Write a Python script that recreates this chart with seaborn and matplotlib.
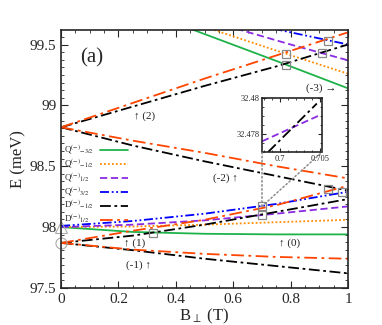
import numpy as np
import pandas as pd
import seaborn as sns
import matplotlib.pyplot as plt
from matplotlib.patches import ConnectionPatch
from matplotlib.ticker import MultipleLocator

sns.set_style("ticks")
plt.rcParams['font.family'] = ['Liberation Serif', 'DejaVu Serif']
plt.rcParams['mathtext.fontset'] = 'stix'

# field values (T) and energies (meV)
b_full = [0.0, 0.25, 0.5, 0.75, 1.0]

q_m32_low = [98.00, 97.96, 97.945, 97.94, 97.94]
q_m32_up_b = [0.45, 0.75, 1.0]
q_m32_up = [99.63, 99.365, 99.14]

q_m12_low = [98.00, 98.005, 98.02, 98.04, 98.06]
q_m12_up_b = [0.52, 0.75, 1.0]
q_m12_up = [99.63, 99.45, 99.26]

q_p12_low = [98.00, 98.02, 98.055, 98.11, 98.17]
q_p12_up_b = [0.61, 0.8, 1.0]
q_p12_up = [99.63, 99.50, 99.37]

q_p32_low = [98.01, 98.05, 98.11, 98.19, 98.29]
q_p32_up_b = [0.74, 1.0]
q_p32_up = [99.63, 99.50]

d_m12_up = [98.82, 98.99, 99.16, 99.32, 99.50]
d_m12_down = [98.82, 98.67, 98.54, 98.42, 98.30]
d_m12_rise = [97.87, 97.93, 98.02, 98.125, 98.23]
d_m12_fall = [97.87, 97.81, 97.74, 97.68, 97.62]

d_p12_up = [98.82, 99.02, 99.22, 99.41, 99.60]
d_p12_down = [98.82, 98.71, 98.61, 98.50, 98.40]
d_p12_rise = [97.87, 97.97, 98.06, 98.18, 98.34]
d_p12_fall = [97.87, 97.815, 97.78, 97.755, 97.74]

# crossing markers
sq_b = [0.32, 0.785, 0.785, 0.908, 0.93, 0.70, 0.70, 0.93, 0.98]
sq_e = [97.955, 99.33, 99.42, 99.43, 99.53, 98.17, 98.10, 98.31, 98.29]

# inset (zoom of the crossing near 0.7 T)
ins_b_purple = [0.69775, 0.705]
ins_e_purple = [32.4776, 32.47906]
ins_b_black = [0.6985, 0.7046]
ins_e_black = [32.477, 32.4797]

labels = [r'Q$^{(-)}{}_{-3/2}$', r'Q$^{(-)}{}_{-1/2}$', r'Q$^{(-)}{}_{1/2}$',
          r'Q$^{(-)}{}_{3/2}$', r'D$^{(-)}{}_{-1/2}$', r'D$^{(-)}{}_{1/2}$']
colors = ['#1fb24a', '#ff8c00', '#8a2be2', '#0000ff', '#000000', '#ff4500']
styles = ['-', (0, (1, 1.2)), (0, (4, 2)), (0, (5, 1.5, 1, 1.5, 1, 1.5)),
          (0, (6, 2, 1.5, 2)), (0, (7, 2.5, 1.5, 2.5))]

branches = [
    [(b_full, q_m32_low), (q_m32_up_b, q_m32_up)],
    [(b_full, q_m12_low), (q_m12_up_b, q_m12_up)],
    [(b_full, q_p12_low), (q_p12_up_b, q_p12_up)],
    [(b_full, q_p32_low), (q_p32_up_b, q_p32_up)],
    [(b_full, d_m12_up), (b_full, d_m12_down), (b_full, d_m12_rise), (b_full, d_m12_fall)],
    [(b_full, d_p12_up), (b_full, d_p12_down), (b_full, d_p12_rise), (b_full, d_p12_fall)],
]

fig = plt.figure(figsize=(3.82, 3.25), dpi=100)
ax = fig.add_axes([0.160, 0.114, 0.751, 0.794])

for lab, col, ls, brs in zip(labels, colors, styles, branches):
    for bx, ey in brs:
        sns.lineplot(x=bx, y=ey, ax=ax, color=col, linestyle=ls, linewidth=1.3)

ax.plot(sq_b, sq_e, 's', ms=6, mfc='none', mec='#888888', mew=0.9)
ax.plot([0], [98.0], '^', ms=8, mfc='none', mec='#aaaaaa', mew=0.8, clip_on=False)
ax.plot([0], [97.87], 'o', ms=8, mfc='none', mec='#aaaaaa', mew=0.8, clip_on=False)

ax.set_xlim(0, 1)
ax.set_ylim(97.5, 99.62)
ax.set_xticks([0, 0.2, 0.4, 0.6, 0.8, 1])
ax.set_xticklabels(['0', '0.2', '0.4', '0.6', '0.8', '1'])
ax.set_yticks([97.5, 98, 98.5, 99, 99.5])
ax.set_yticklabels(['97.5', '98', '98.5', '99', '99.5'])
ax.xaxis.set_minor_locator(MultipleLocator(0.05))
ax.yaxis.set_minor_locator(MultipleLocator(0.0625))
ax.tick_params(which='both', direction='in', top=True, right=True, labelsize=11)
ax.tick_params(which='major', length=5)
ax.tick_params(which='minor', length=2.5)
for s in ax.spines.values():
    s.set_linewidth(1.2)
ax.set_xlabel(r'B$_{\perp}$ (T)', fontsize=12, labelpad=1)
ax.set_ylabel('E (meV)', fontsize=12, labelpad=2)

ax.text(0.065, 99.39, '(a)', fontsize=15, ha='left', va='center')
tk = dict(fontsize=8, color='#222222', va='center')
ax.text(0.255, 98.91, '↑ (2)', ha='left', **tk)
ax.text(0.53, 98.40, '(-2) ↑', ha='left', **tk)
ax.text(0.855, 99.14, '(-3) →', ha='left', **tk)
ax.text(0.76, 97.87, '↑ (0)', ha='left', **tk)
ax.text(0.22, 97.87, '↑ (1)', ha='left', **tk)
ax.text(0.225, 97.69, '(-1) ↑', ha='left', **tk)

# legend in the gnuplot style: labels left, samples right, fixed rows
rows = np.linspace(0.535, 0.265, len(labels))
for lab, col, ls, yr in zip(labels, colors, styles, rows):
    ax.text(0.01, yr, lab, transform=ax.transAxes, fontsize=6.5,
            ha='left', va='center')
    ax.plot([0.136, 0.233], [yr, yr], transform=ax.transAxes, color=col,
            linestyle=ls, linewidth=1.3)

# inset
axin = fig.add_axes([0.686, 0.532, 0.157, 0.166])
sns.lineplot(x=ins_b_purple, y=ins_e_purple, ax=axin, color=colors[2],
             linestyle=styles[2], linewidth=1.3)
sns.lineplot(x=ins_b_black, y=ins_e_black, ax=axin, color=colors[4],
             linestyle=styles[4], linewidth=1.3)
axin.set_xlim(0.69775, 0.70525)
axin.set_ylim(32.477, 32.48)
axin.set_xticks([0.7, 0.705])
axin.set_xticklabels(['0.7', '0.705'])
axin.set_yticks([32.478, 32.48])
axin.set_yticklabels(['32.478', '32.48'])
axin.xaxis.set_minor_locator(MultipleLocator(0.001))
axin.yaxis.set_minor_locator(MultipleLocator(0.0005))
axin.tick_params(which='both', direction='in', top=True, right=True, labelsize=6, pad=2)
axin.tick_params(which='major', length=3)
axin.tick_params(which='minor', length=1.5)
axin.set_xlabel('')
axin.set_ylabel('')
for s in axin.spines.values():
    s.set_linewidth(1.2)

for xa in [0.0, 1.0]:
    cp = ConnectionPatch(xyA=(sq_b[5], sq_e[5]), coordsA=ax.transData,
                         xyB=(xa, 0.0), coordsB=axin.transAxes,
                         linestyle=':', color='#888888', linewidth=1.1)
    fig.add_artist(cp)

fig.savefig('out.png', dpi=100)
